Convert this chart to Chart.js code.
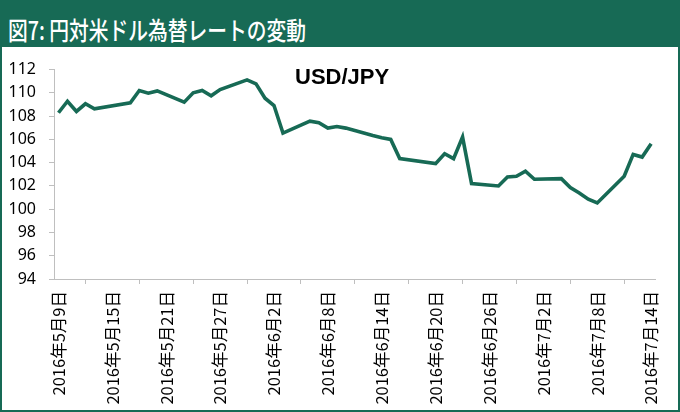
<!DOCTYPE html>
<html>
<head>
<meta charset="utf-8">
<script src="https://cdn.jsdelivr.net/npm/chart.js@4/dist/chart.umd.min.js"></script>
<style>
  html, body { margin: 0; padding: 0; background: #fff; }
  #frame {
    position: relative;
    width: 680px; height: 412px;
    box-sizing: border-box;
    border: 2px solid #176a55;
    border-top: none;
    overflow: hidden;
  }
  #header {
    height: 47px;
    margin: 0 -2px;
    background: #176a55;
    color: #fff;
    font-family: "Noto Sans CJK JP", sans-serif;
    font-weight: 500;
    font-size: 25px;
    line-height: 25px;
    box-sizing: border-box;
    padding: 17px 0 0 8px;
    white-space: nowrap;
  }
  #header span { display: inline-block; transform: scaleX(0.79); transform-origin: left; }
  #pair {
    position: absolute; left: 293px; top: 66px;
    font-family: "Liberation Sans", sans-serif;
    font-weight: bold; font-size: 22px; line-height: 22px;
    color: #000;
  }
</style>
</head>
<body>
<div id="frame">
  <div id="header"><span>図7: 円対米ドル為替レートの変動</span></div>
  <canvas id="fxChart" width="676" height="363"></canvas>
  <div id="pair">USD/JPY</div>
</div>
<script>
// --- data ---
const tradeDates = [
  '2016-05-09', '2016-05-10', '2016-05-11', '2016-05-12', '2016-05-13',
  '2016-05-17', '2016-05-18', '2016-05-19', '2016-05-20',
  '2016-05-23', '2016-05-24', '2016-05-25', '2016-05-26', '2016-05-27',
  '2016-05-30', '2016-05-31', '2016-06-01', '2016-06-02', '2016-06-03',
  '2016-06-06', '2016-06-07', '2016-06-08', '2016-06-09', '2016-06-10',
  '2016-06-13', '2016-06-14', '2016-06-15', '2016-06-16',
  '2016-06-20', '2016-06-21', '2016-06-22', '2016-06-23', '2016-06-24',
  '2016-06-27', '2016-06-28', '2016-06-29', '2016-06-30', '2016-07-01',
  '2016-07-04', '2016-07-05', '2016-07-06', '2016-07-07', '2016-07-08',
  '2016-07-11', '2016-07-12', '2016-07-13', '2016-07-14'
];
const usdJpy = [
  108.29, 109.28, 108.40, 109.06, 108.63,
  109.15, 110.20, 109.97, 110.17,
  109.20, 110.00, 110.20, 109.75, 110.29,
  111.12, 110.77, 109.54, 108.91, 106.54,
  107.57, 107.43, 106.97, 107.11, 106.97,
  106.34, 106.15, 106.00, 104.35,
  103.92, 104.77, 104.35, 106.20, 102.20,
  102.00, 102.77, 102.83, 103.26, 102.57,
  102.63, 101.86, 101.40, 100.86, 100.54,
  102.83, 104.71, 104.48, 105.63
];
const yMin = 94, yMax = 112, yStep = 2;
const labelEvery = 6; // a date label every 6 calendar days

// Date axis: every calendar day from first to last trading date
const days = [];
let cur = new Date(tradeDates[0] + 'T00:00:00');
const last = new Date(tradeDates[tradeDates.length - 1] + 'T00:00:00');
while (cur <= last) {
  const iso = cur.getFullYear() + '-' + String(cur.getMonth() + 1).padStart(2, '0') + '-' + String(cur.getDate()).padStart(2, '0');
  days.push(iso);
  cur.setDate(cur.getDate() + 1);
}
const series = days.map(d => {
  const i = tradeDates.indexOf(d);
  return i >= 0 ? usdJpy[i] : null;
});

function jpDate(iso) {
  const p = iso.split('-');
  return p[0] + '年' + Number(p[1]) + '月' + Number(p[2]) + '日';
}

const green = '#176a55';
const axisGrey = '#bfbfbf';

new Chart(document.getElementById('fxChart').getContext('2d'), {
  type: 'line',
  data: {
    labels: days,
    datasets: [{
      label: 'USD/JPY',
      data: series,
      borderColor: green,
      backgroundColor: green,
      borderWidth: 3.6,
      pointRadius: 0,
      tension: 0,
      spanGaps: true
    }]
  },
  options: {
    responsive: false,
    animation: false,
    devicePixelRatio: 1,
    layout: { padding: { top: 22, right: 10, bottom: 0, left: 0 } },
    plugins: {
      legend: { display: false },
      tooltip: { enabled: false }
    },
    scales: {
      x: {
        offset: true,
        afterFit: (axis) => { axis.height = 131; },
        grid: {
          offset: true,
          drawOnChartArea: false,
          drawTicks: true,
          tickLength: 5,
          color: axisGrey
        },
        border: { display: true, color: axisGrey, width: 1 },
        ticks: {
          autoSkip: false,
          minRotation: 90,
          maxRotation: 90,
          padding: 7,
          color: '#000',
          font: { family: '"Noto Sans CJK JP", sans-serif', size: 16.5 },
          callback: function (value, index) {
            return index % labelEvery === 0 ? jpDate(days[index]) : null;
          }
        }
      },
      y: {
        min: yMin,
        max: yMax,
        afterFit: (axis) => { axis.width = 52; },
        grid: {
          drawOnChartArea: false,
          drawTicks: true,
          tickLength: 5,
          color: axisGrey
        },
        border: { display: true, color: axisGrey, width: 1 },
        ticks: {
          stepSize: yStep,
          padding: 13,
          color: '#000',
          font: { family: '"Noto Sans", sans-serif', size: 16 }
        }
      }
    }
  }
});
</script>
</body>
</html>
